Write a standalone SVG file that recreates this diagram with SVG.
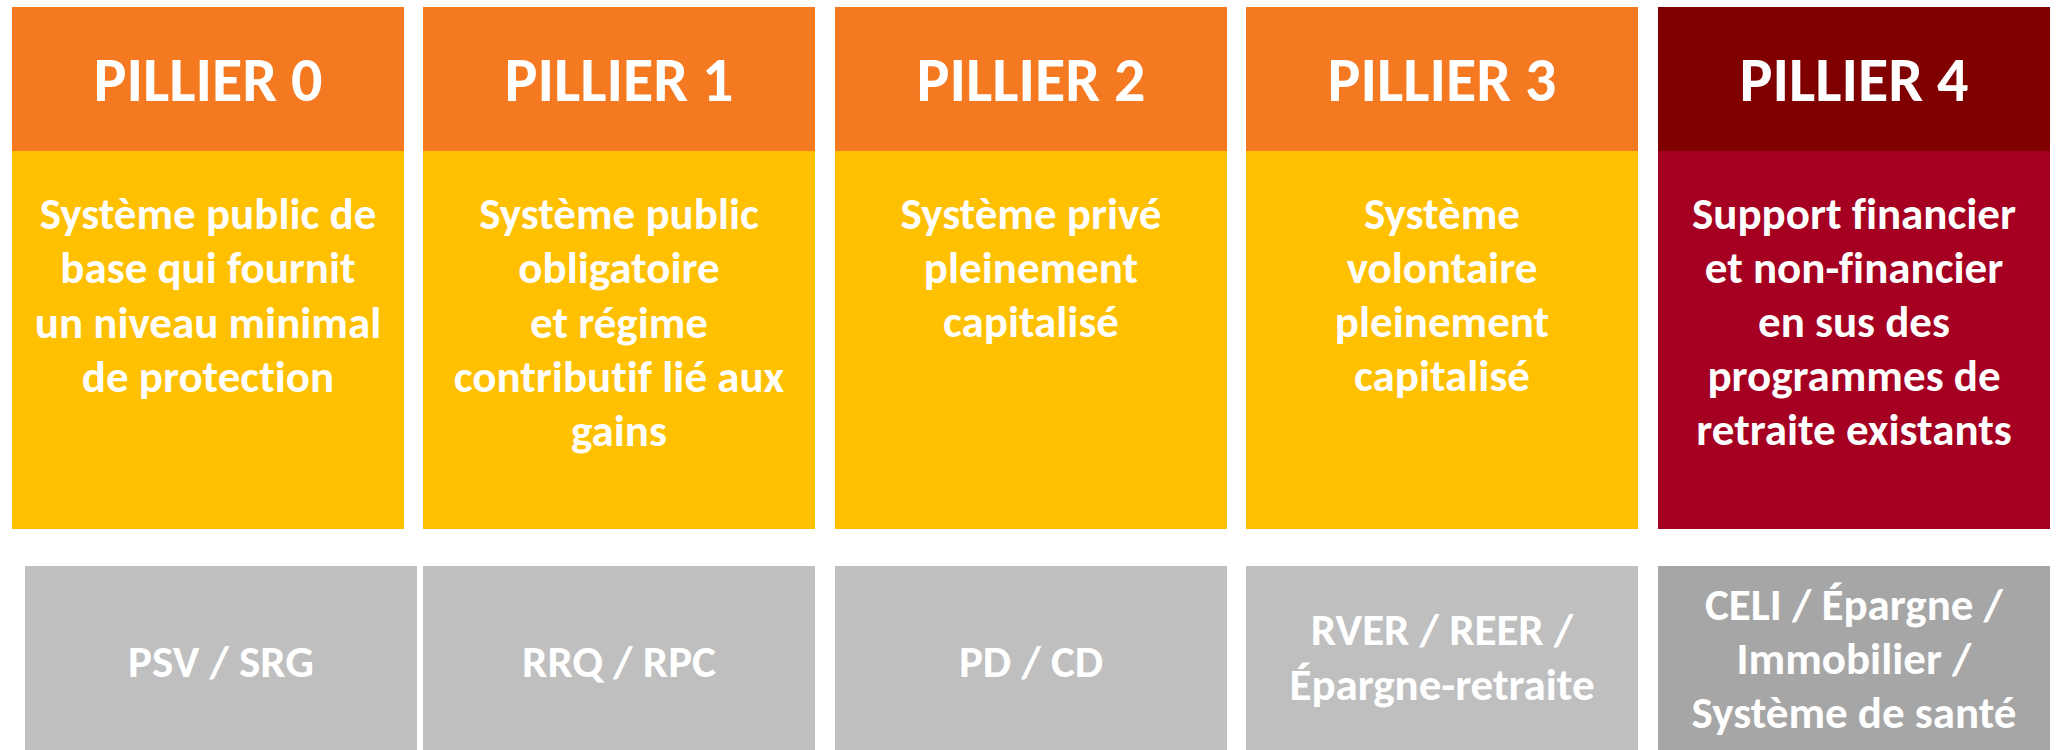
<svg xmlns="http://www.w3.org/2000/svg" width="2057" height="750" viewBox="0 0 2057 750">
<style>
text{font-family:Carlito,Lato,"Liberation Sans",sans-serif;font-weight:bold;fill:#FFFFFF;text-anchor:middle;font-variant-ligatures:none;font-feature-settings:"liga" 0,"clig" 0}
.h{font-size:62px}
.b{font-size:45px}
.hd{fill:#F47920}
.hd4{fill:#800000}
.bd{fill:#FFC000}
.bd4{fill:#A50021}
.gr{fill:#BFBFBF}
.gr4{fill:#A6A6A6}
</style>
<rect width="2057" height="750" fill="#FFFFFF"/>
<g id="pillier0">
<rect class="hd" x="12" y="7" width="392" height="144"/>
<rect class="bd" x="12" y="151" width="392" height="378"/>
<rect class="gr" x="25" y="566" width="392" height="184"/>
<text class="h" x="208" y="101">PILLIER 0</text>
<text class="b" x="208" y="229">Système public de</text>
<text class="b" x="208" y="283">base qui fournit</text>
<text class="b" x="208" y="338">un niveau minimal</text>
<text class="b" x="208" y="392">de protection</text>
<text class="b" x="221" y="677">PSV / SRG</text>
</g>
<g id="pillier1">
<rect class="hd" x="423" y="7" width="392" height="144"/>
<rect class="bd" x="423" y="151" width="392" height="378"/>
<rect class="gr" x="423" y="566" width="392" height="184"/>
<text class="h" x="619" y="101">PILLIER 1</text>
<text class="b" x="619" y="229">Système public</text>
<text class="b" x="619" y="283">obligatoire</text>
<text class="b" x="619" y="338">et régime</text>
<text class="b" x="619" y="392">contributif lié aux</text>
<text class="b" x="619" y="446">gains</text>
<text class="b" x="619" y="677">RRQ / RPC</text>
</g>
<g id="pillier2">
<rect class="hd" x="835" y="7" width="392" height="144"/>
<rect class="bd" x="835" y="151" width="392" height="378"/>
<rect class="gr" x="835" y="566" width="392" height="184"/>
<text class="h" x="1031" y="101">PILLIER 2</text>
<text class="b" x="1031" y="229">Système privé</text>
<text class="b" x="1031" y="283">pleinement</text>
<text class="b" x="1031" y="337">capitalisé</text>
<text class="b" x="1031" y="677">PD / CD</text>
</g>
<g id="pillier3">
<rect class="hd" x="1246" y="7" width="392" height="144"/>
<rect class="bd" x="1246" y="151" width="392" height="378"/>
<rect class="gr" x="1246" y="566" width="392" height="184"/>
<text class="h" x="1442" y="101">PILLIER 3</text>
<text class="b" x="1442" y="229">Système</text>
<text class="b" x="1442" y="283">volontaire</text>
<text class="b" x="1442" y="337">pleinement</text>
<text class="b" x="1442" y="391">capitalisé</text>
<text class="b" x="1442" y="645">RVER / REER /</text>
<text class="b" x="1442" y="700">Épargne-retraite</text>
</g>
<g id="pillier4">
<rect class="hd4" x="1658" y="7" width="392" height="144"/>
<rect class="bd4" x="1658" y="151" width="392" height="378"/>
<rect class="gr4" x="1658" y="566" width="392" height="184"/>
<text class="h" x="1854" y="101">PILLIER 4</text>
<text class="b" x="1854" y="229">Support financier</text>
<text class="b" x="1854" y="283">et non-financier</text>
<text class="b" x="1854" y="337">en sus des</text>
<text class="b" x="1854" y="391">programmes de</text>
<text class="b" x="1854" y="445">retraite existants</text>
<text class="b" x="1854" y="620">CELI / Épargne /</text>
<text class="b" x="1854" y="674">Immobilier /</text>
<text class="b" x="1854" y="728">Système de santé</text>
</g>
<g id="connectors"></g>
</svg>
